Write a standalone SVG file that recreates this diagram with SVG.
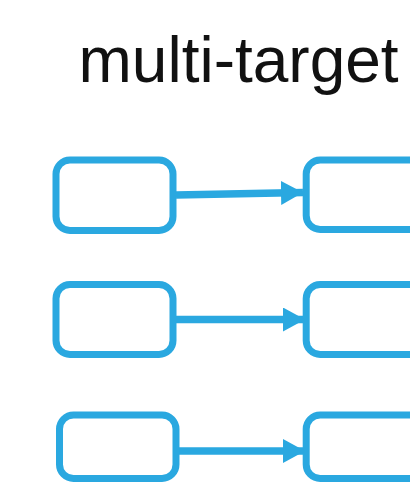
<svg xmlns="http://www.w3.org/2000/svg" width="410" height="485" viewBox="0 0 410 485">
  <style>
    .node rect { fill: #ffffff; stroke: #2aa8e0; stroke-width: 7; }
    .edge { stroke: #2aa8e0; stroke-width: 7.5; fill: none; }
    .title { font-family: "Liberation Sans", Arial, sans-serif; font-size: 64px; fill: #111111; }
  </style>
  <defs>
    <marker id="arrow" markerUnits="userSpaceOnUse" markerWidth="24" markerHeight="26" refX="22" refY="12" orient="auto">
      <path d="M0,0 L22,12 L0,24 Z" fill="#2aa8e0"/>
    </marker>
  </defs>
  <rect width="410" height="485" fill="#ffffff"/>
  <text class="title" x="78.5" y="82">multi-target</text>

  <g id="src1" class="node"><rect x="56" y="160" width="117" height="70.5" rx="14"/></g>
  <g id="dst1" class="node"><rect x="306.2" y="160" width="124" height="69.5" rx="14"/></g>
  <g id="src2" class="node"><rect x="56" y="284.5" width="117" height="70" rx="14"/></g>
  <g id="dst2" class="node"><rect x="306.2" y="284.5" width="124" height="70" rx="14"/></g>
  <g id="src3" class="node"><rect x="59.5" y="415" width="116.5" height="63.5" rx="14"/></g>
  <g id="dst3" class="node"><rect x="306.2" y="415" width="124" height="63.5" rx="14"/></g>

  <g id="connectors">
    <line class="edge" x1="176" y1="195" x2="303" y2="192.5" marker-end="url(#arrow)"/>
    <line class="edge" x1="176" y1="319.5" x2="305" y2="319.5" marker-end="url(#arrow)"/>
    <line class="edge" x1="179" y1="451" x2="305" y2="451" marker-end="url(#arrow)"/>
  </g>
</svg>
